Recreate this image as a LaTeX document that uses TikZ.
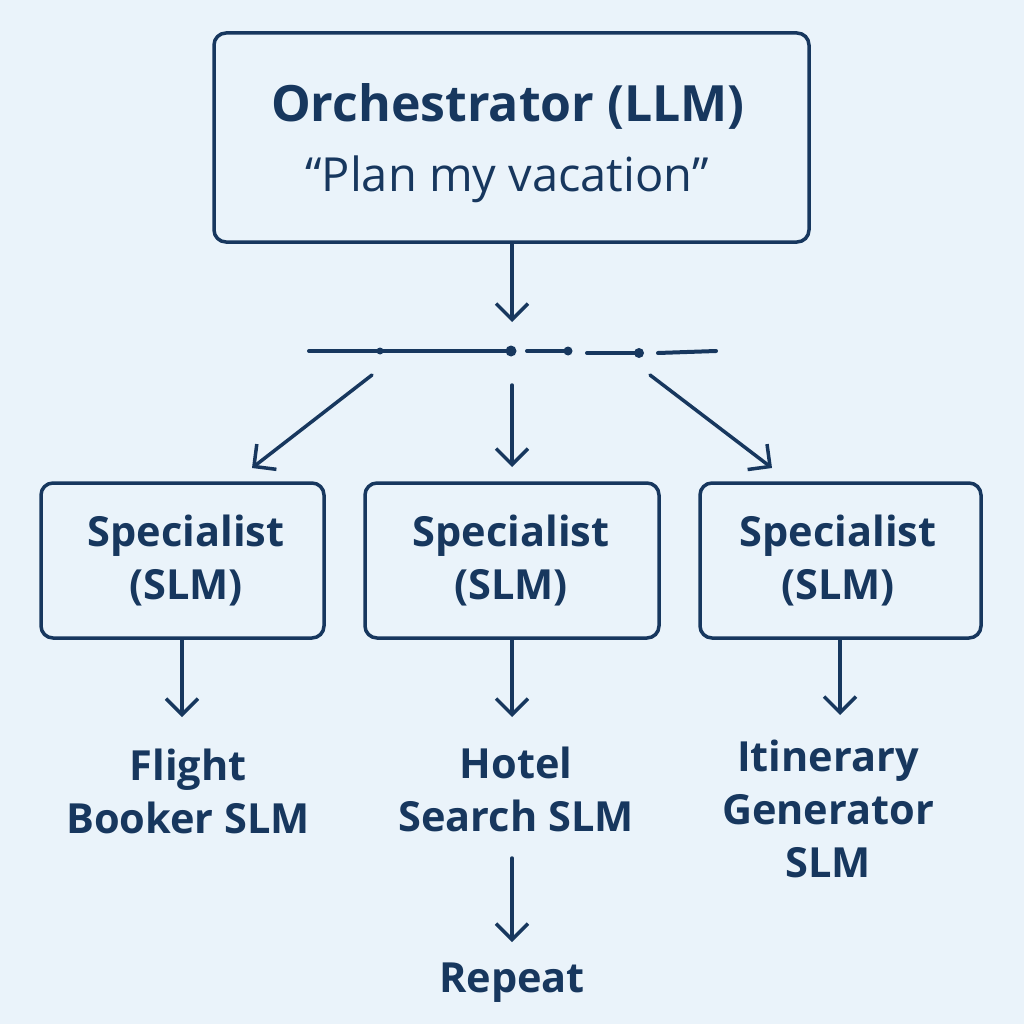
\documentclass[tikz,border=0pt]{standalone}
\usepackage{fontspec}
\setmainfont{Open Sans}
\usetikzlibrary{arrows.meta}
\definecolor{bg}{HTML}{EAF3FA}
\definecolor{ink}{HTML}{17375E}
\begin{document}
\begin{tikzpicture}[x=1pt,y=-1pt,
  box/.style={draw=ink,line width=3.5pt,rounded corners=12pt,fill=none},
  lbl/.style={text=ink,align=center,font=\bfseries\fontsize{41.5}{53}\selectfont},
  conn/.style={draw=ink,line width=3.5pt,line cap=round,-{Straight Barb[length=16pt,width=32pt,line width=3.5pt]}},
  seg/.style={draw=ink,line width=4pt,line cap=round},
  dot/.style={fill=ink,circle,inner sep=0pt}]
\fill[bg] (0,0) rectangle (1024,1024);
\useasboundingbox (0,0) rectangle (1024,1024);
% top box
\node[box,minimum width=595pt,minimum height=209pt] (orch) at (511.5,137.5) {};
\node[text=ink,font=\bfseries\fontsize{50}{50}\selectfont] (t1) at (508,106) {Orchestrator (LLM)};
\node[text=ink,font=\fontsize{47}{50}\selectfont] (t2) at (507,179) {“Plan my vacation”};
% bus
\coordinate (b0) at (309,351);
\coordinate (b1) at (380,351);
\coordinate (b2) at (511,351);
\coordinate (b3) at (527,351);
\coordinate (b4) at (568,351);
\coordinate (b5) at (587,353);
\coordinate (b6) at (639,353);
\coordinate (b7) at (658,353);
\coordinate (b8) at (716,351);
\coordinate (busin) at (512,322);
\draw[conn] (orch.south -| busin) -- (busin);
\draw[seg] (b0) -- (b2);
\draw[seg] (b3) -- (b4);
\draw[seg] (b5) -- (b6);
\draw[seg] (b7) -- (b8);
\node[dot,minimum size=7pt] (d1) at (b1) {};
\node[dot,minimum size=11pt] (d2) at (b2) {};
\node[dot,minimum size=9pt] (d3) at (b4) {};
\node[dot,minimum size=10pt] (d4) at (b6) {};
% specialists
\node[box,minimum width=283pt,minimum height=155pt] (s1) at (182.5,560.5) {};
\node[box,minimum width=294pt,minimum height=155pt] (s2) at (512,560.5) {};
\node[box,minimum width=281pt,minimum height=155pt] (s3) at (840.5,560.5) {};
\node[lbl] (s1t) at (186,561) {Specialist\\(SLM)};
\node[lbl] (s2t) at (511,561) {Specialist\\(SLM)};
\node[lbl] (s3t) at (838,561) {Specialist\\(SLM)};
\coordinate (a1s) at (372,375);
\coordinate (a1e) at (252,468);
\coordinate (a2s) at (512,385);
\coordinate (a2e) at (512,467);
\coordinate (a3s) at (650,375);
\coordinate (a3e) at (772,468);
\draw[conn] (a1s) -- (a1e);
\draw[conn] (a2s) -- (a2e);
\draw[conn] (a3s) -- (a3e);
% outputs
\node[lbl] (o1) at (188,791) {Flight\\Booker SLM};
\node[lbl] (o2) at (516,789) {Hotel\\Search SLM};
\node[lbl] (o3) at (828,809) {Itinerary\\Generator\\SLM};
\coordinate (e1) at (182,717);
\coordinate (e2) at (512,717);
\coordinate (e3) at (840,715);
\draw[conn] (s1.south -| e1) -- (e1);
\draw[conn] (s2.south -| e2) -- (e2);
\draw[conn] (s3.south -| e3) -- (e3);
\node[lbl] (rep) at (512,983) {Repeat};
\coordinate (r0) at (512,858);
\coordinate (r1) at (512,942);
\draw[conn] (r0) -- (r1);
\end{tikzpicture}
\end{document}
